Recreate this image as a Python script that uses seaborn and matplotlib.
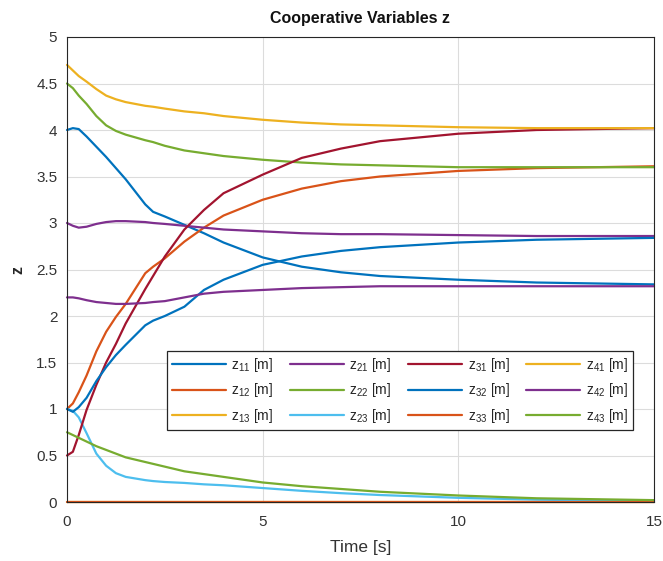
import numpy as np
import pandas as pd
import matplotlib
matplotlib.use("Agg")
import matplotlib.pyplot as plt
import seaborn as sns

# ---- data ----
t = [0, 0.15, 0.3, 0.5, 0.75, 1, 1.25, 1.5, 2, 2.2, 2.5, 3, 3.5, 4, 5, 6, 7, 8, 10, 12, 15]

z11 = [4.00, 4.02, 4.01, 3.93, 3.82, 3.71, 3.59, 3.47, 3.20, 3.12, 3.07, 2.98, 2.89, 2.79, 2.63, 2.53, 2.47, 2.43, 2.39, 2.36, 2.34]
z12 = [1.00, 1.06, 1.18, 1.36, 1.62, 1.83, 1.99, 2.13, 2.46, 2.53, 2.62, 2.80, 2.95, 3.08, 3.25, 3.37, 3.45, 3.50, 3.56, 3.59, 3.61]
z13 = [0.0] * 21
z21 = [3.00, 2.97, 2.95, 2.96, 2.99, 3.01, 3.02, 3.02, 3.01, 3.00, 2.99, 2.97, 2.95, 2.93, 2.91, 2.89, 2.88, 2.88, 2.87, 2.86, 2.86]
z22 = [4.50, 4.45, 4.37, 4.28, 4.15, 4.05, 3.99, 3.95, 3.89, 3.87, 3.83, 3.78, 3.75, 3.72, 3.68, 3.65, 3.63, 3.62, 3.60, 3.60, 3.60]
z23 = [1.00, 0.98, 0.91, 0.74, 0.52, 0.39, 0.31, 0.27, 0.235, 0.225, 0.215, 0.205, 0.19, 0.18, 0.15, 0.12, 0.095, 0.075, 0.045, 0.025, 0.01]
z31 = [0.50, 0.54, 0.72, 0.99, 1.26, 1.50, 1.70, 1.92, 2.29, 2.43, 2.64, 2.93, 3.14, 3.32, 3.52, 3.70, 3.80, 3.88, 3.96, 4.00, 4.02]
z32 = [1.00, 0.97, 1.02, 1.12, 1.30, 1.45, 1.58, 1.69, 1.90, 1.95, 2.00, 2.10, 2.28, 2.39, 2.55, 2.64, 2.70, 2.74, 2.79, 2.82, 2.84]
z33 = [0.0] * 21
z41 = [4.70, 4.64, 4.58, 4.52, 4.44, 4.37, 4.33, 4.30, 4.26, 4.25, 4.23, 4.20, 4.18, 4.15, 4.11, 4.08, 4.06, 4.05, 4.03, 4.02, 4.02]
z42 = [2.20, 2.20, 2.19, 2.17, 2.15, 2.14, 2.13, 2.13, 2.14, 2.15, 2.16, 2.20, 2.24, 2.26, 2.28, 2.30, 2.31, 2.32, 2.32, 2.32, 2.32]
z43 = [0.75, 0.72, 0.69, 0.65, 0.60, 0.56, 0.52, 0.48, 0.43, 0.41, 0.38, 0.33, 0.30, 0.27, 0.21, 0.17, 0.14, 0.11, 0.07, 0.04, 0.02]

names = ["z11", "z12", "z13", "z21", "z22", "z23", "z31", "z32", "z33", "z41", "z42", "z43"]
series = [z11, z12, z13, z21, z22, z23, z31, z32, z33, z41, z42, z43]
labels = [r"$\mathregular{z_{%s}}$ [m]" % n[1:] for n in names]

xticks = [0, 5, 10, 15]
yticks = [0, 0.5, 1, 1.5, 2, 2.5, 3, 3.5, 4, 4.5, 5]

mat = ["#0072BD", "#D95319", "#EDB120", "#7E2F8E", "#77AC30", "#4DBEEE", "#A2142F"]
palette = [mat[i % 7] for i in range(12)]

rows = []
for lab, vals in zip(labels, series):
    for tt, v in zip(t, vals):
        rows.append((tt, v, lab))
df = pd.DataFrame(rows, columns=["t", "z", "series"])

# ---- styling ----
sns.set_style("white")
plt.rcParams["font.family"] = ["Liberation Sans", "DejaVu Sans"]
plt.rcParams["mathtext.default"] = "regular"

fig = plt.figure(figsize=(6.63, 5.61), dpi=100)
ax = fig.add_axes([67 / 663, 1 - 502 / 561, 587 / 663, 465 / 561])

sns.lineplot(data=df, x="t", y="z", hue="series", hue_order=labels,
             palette=palette, linewidth=1.6, estimator=None, ax=ax, legend=False)
for ln in ax.get_lines():
    ln.set_clip_on(False)
    ln.set_solid_joinstyle("round")

ax.set_xlim(0, 15)
ax.set_ylim(0, 5)
ax.set_xticks(xticks)
ax.set_yticks(yticks)
ax.set_yticklabels([("%g" % v) for v in yticks])
ax.grid(True, color="#DCDCDC", linewidth=0.8)
ax.set_axisbelow(True)
for s in ax.spines.values():
    s.set_color("#262626")
    s.set_linewidth(0.8)
ax.tick_params(direction="in", length=4, colors="#333333", labelsize=11,
               top=False, right=False)
ax.tick_params(axis="x", pad=9)
ax.tick_params(axis="y", pad=7)

ax.set_title("Cooperative Variables z", fontsize=11.5, fontweight="bold",
             color="#111111", pad=10)
ax.set_xlabel("Time [s]", fontsize=12.5, color="#333333", labelpad=8)
ax.set_ylabel("z", fontsize=11.5, fontweight="bold", color="#262626",
              rotation=90, labelpad=8)

handles = [plt.Line2D([], [], color=c, lw=1.6) for c in palette]
leg = ax.legend(handles, labels, ncol=4, loc="lower left",
                bbox_to_anchor=(0.158, 0.14, 0.818, 0.2), mode="expand",
                fontsize=10, handlelength=3.9, handletextpad=0.4,
                columnspacing=0.6, labelspacing=0.55, borderpad=0.35,
                frameon=True, fancybox=False, framealpha=1,
                edgecolor="#262626")
leg.get_frame().set_linewidth(0.9)

fig.savefig("out.png", dpi=100)
